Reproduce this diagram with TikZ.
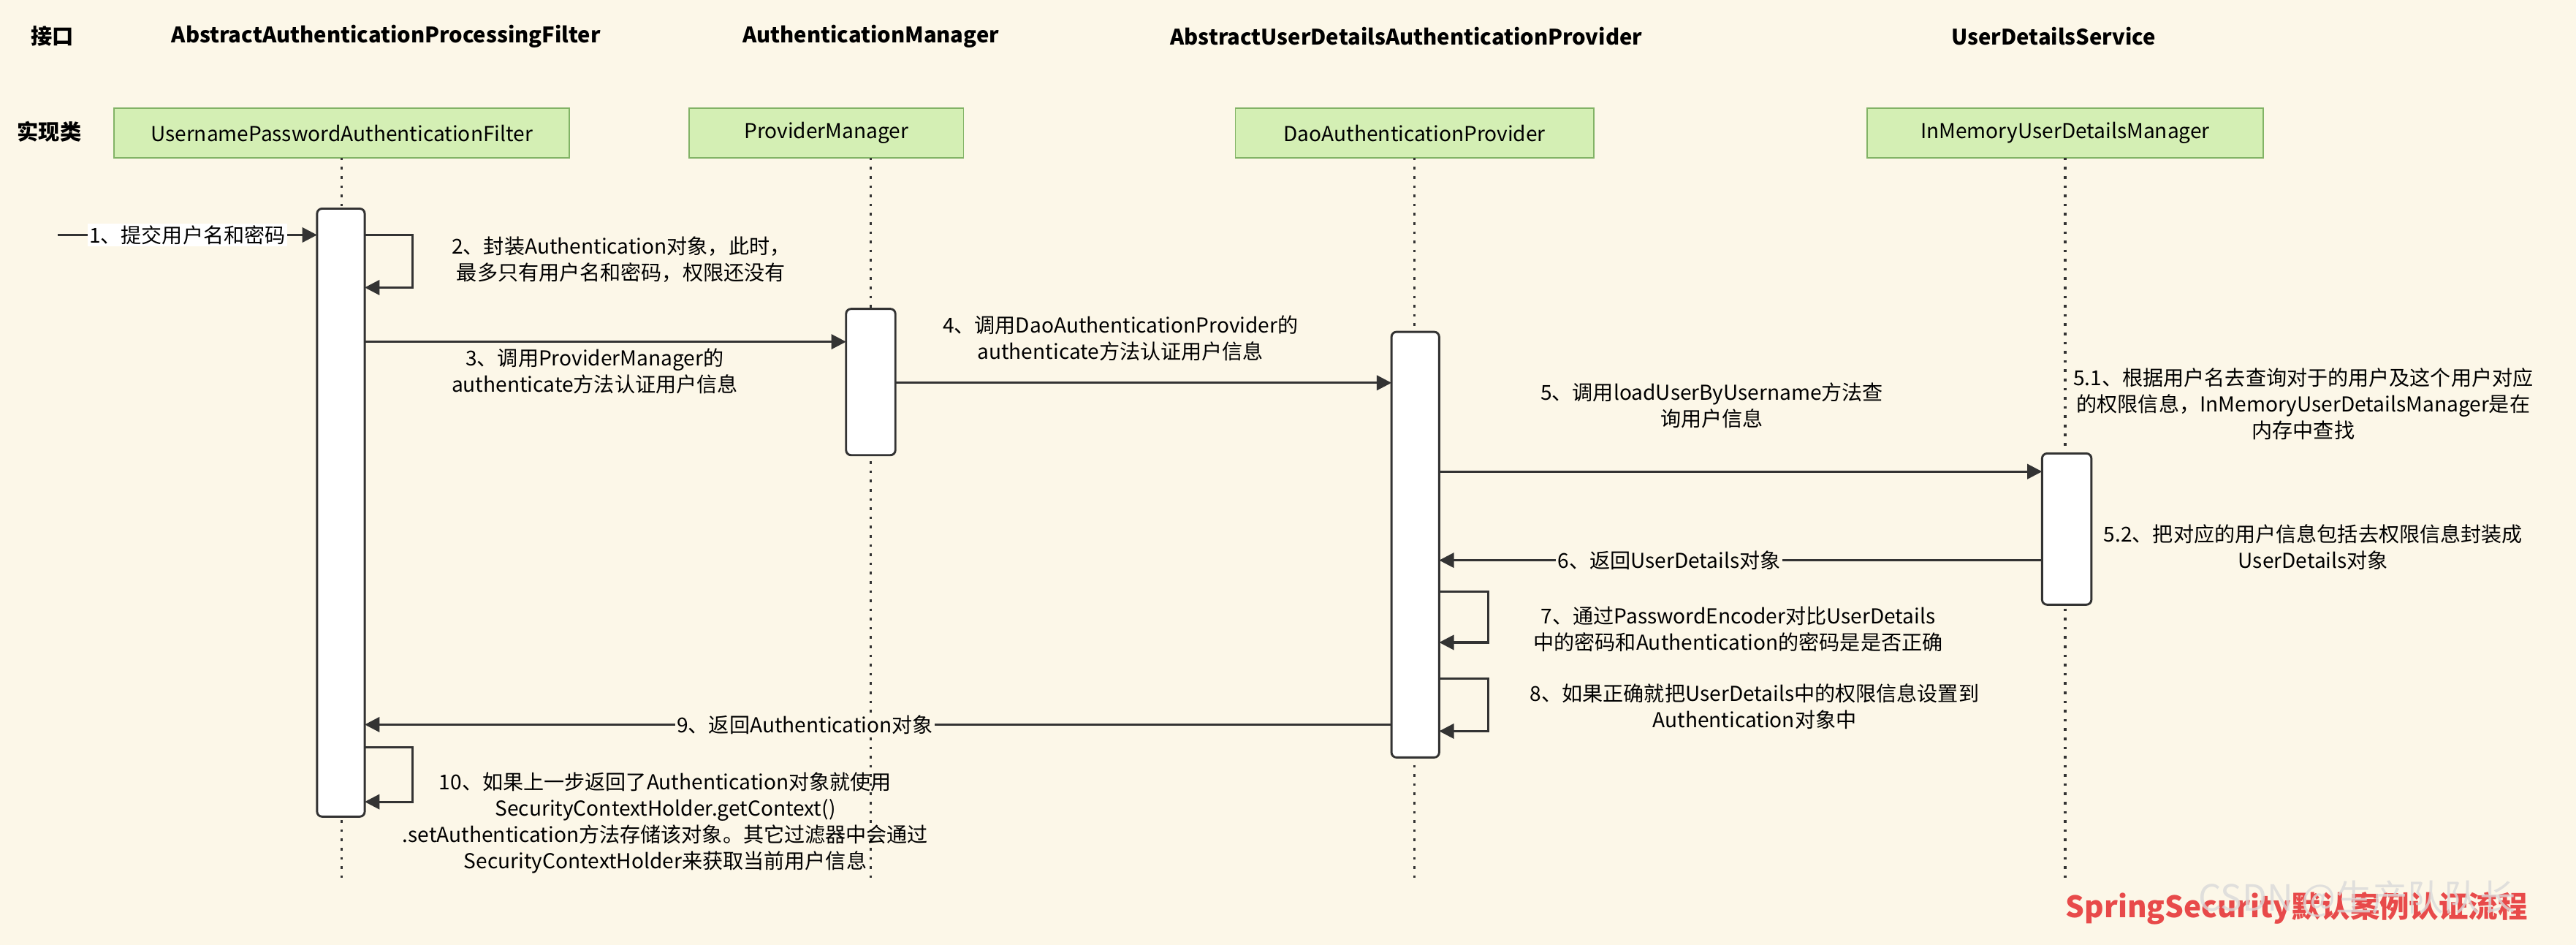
\documentclass[tikz,border=0pt]{standalone}
\usepackage{fontspec}
\setmainfont{Noto Sans CJK SC}
\usetikzlibrary{arrows.meta}
\definecolor{bg}{HTML}{FCF7E8}
\definecolor{boxg}{HTML}{D4EFB4}
\definecolor{boxb}{HTML}{82B366}
\definecolor{ln}{HTML}{333333}
\definecolor{rd}{HTML}{E84A4A}
\begin{document}
\begin{tikzpicture}[x=1pt,y=-1pt,
  hdr/.style={font=\fontsize{13}{15}\selectfont\bfseries},
  impl/.style={draw=boxb,fill=boxg,line width=0.8pt,minimum height=30pt,font=\fontsize{12.5}{14}\selectfont,inner sep=0},
  life/.style={ln,line width=1.6pt,dash pattern=on 1.6pt off 4pt},
  act/.style={draw=ln,fill=white,line width=1.3pt,rounded corners=3pt},
  msg/.style={ln,line width=1.4pt,-{Triangle[length=9pt,width=9pt]}},
  lbl/.style={font=\fontsize{12.5}{16}\selectfont,align=center,text=black},
  lbf/.style={lbl,fill=white,inner sep=1pt}]
\fill[bg] (0,0) rectangle (1568,575);
\useasboundingbox (0,0) rectangle (1568,575);
% headers
\node[hdr] (h0) at (32,22) {接口};
\node[hdr] (h1) at (235,22) {AbstractAuthenticationProcessingFilter};
\node[hdr] (h2) at (530,22) {AuthenticationManager};
\node[hdr] (h3) at (856,22) {AbstractUserDetailsAuthenticationProvider};
\node[hdr] (h4) at (1250,22) {UserDetailsService};
\node[hdr] (h5) at (30,80) {实现类};
% implementation boxes
\node[impl,minimum width=277pt] (b1) at (208,81) {UsernamePasswordAuthenticationFilter};
\node[impl,minimum width=167pt] (b2) at (503,81) {ProviderManager};
\node[impl,minimum width=218pt] (b3) at (861,81) {DaoAuthenticationProvider};
\node[impl,minimum width=241pt] (b4) at (1257,81) {InMemoryUserDetailsManager};
% lifelines
\coordinate (e1) at (208,535); \coordinate (e2) at (530,535);
\coordinate (e3) at (861,535); \coordinate (e4) at (1257,535);
\draw[life] (208,96) -- (e1);
\draw[life] (530,96) -- (e2);
\draw[life] (861,96) -- (e3);
\draw[life] (1257,96) -- (e4);
% activations
\draw[act] (193,127) rectangle (222,497);
\draw[act] (515,188) rectangle (545,277);
\draw[act] (847,202) rectangle (876,461);
\draw[act] (1243,276) rectangle (1273,368);
% 1
\coordinate (s1) at (35,143);
\draw[msg] (s1) -- (193,143);
\node[lbf] (l1) at (114,143) {1、提交用户名和密码};
% 2
\draw[msg] (222,143) -- (251,143) -- (251,175) -- (222,175);
\node[lbl,align=center] (l2) at (378,158) {2、封装Authentication对象，此时，\\最多只有用户名和密码，权限还没有};
% 3
\draw[msg] (222,208) -- (515,208);
\node[lbl] (l3) at (362,226) {3、调用ProviderManager的\\authenticate方法认证用户信息};
% 4
\draw[msg] (545,233) -- (847,233);
\node[lbl] (l4) at (682,206) {4、调用DaoAuthenticationProvider的\\authenticate方法认证用户信息};
% 5
\draw[msg] (876,287) -- (1243,287);
\node[lbl] (l5) at (1042,247) {5、调用loadUserByUsername方法查\\询用户信息};
\node[lbl] (l51) at (1402,246) {5.1、根据用户名去查询对于的用户及这个用户对应\\的权限信息，InMemoryUserDetailsManager是在\\内存中查找};
\node[lbl] (l52) at (1408,333) {5.2、把对应的用户信息包括去权限信息封装成\\UserDetails对象};
% 6
\draw[msg] (1243,341) -- (876,341);
\node[lbf,fill=bg] (l6) at (1016,341) {6、返回UserDetails对象};
% 7
\draw[msg] (876,360) -- (906,360) -- (906,391) -- (876,391);
\node[lbl] (l7) at (1058,383) {7、通过PasswordEncoder对比UserDetails\\中的密码和Authentication的密码是是否正确};
% 8
\draw[msg] (876,413) -- (906,413) -- (906,445) -- (876,445);
\node[lbl] (l8) at (1068,430) {8、如果正确就把UserDetails中的权限信息设置到\\Authentication对象中};
% 9
\draw[msg] (847,441) -- (222,441);
\node[lbf,fill=bg] (l9) at (490,441) {9、返回Authentication对象};
% 10
\draw[msg] (222,455) -- (251,455) -- (251,488) -- (222,488);
\node[lbl] (l10) at (405,501) {10、如果上一步返回了Authentication对象就使用\\SecurityContextHolder.getContext()\\.setAuthentication方法存储该对象。其它过滤器中会通过\\SecurityContextHolder来获取当前用户信息};
% footer
\node[font=\fontsize{18}{20}\selectfont\bfseries,text=rd] (t) at (1398,553) {SpringSecurity默认案例认证流程};
\node[font=\fontsize{22}{24}\selectfont,text=black!15,opacity=0.8] (w) at (1435,547) {CSDN @生产队队长};
\end{tikzpicture}
\end{document}
